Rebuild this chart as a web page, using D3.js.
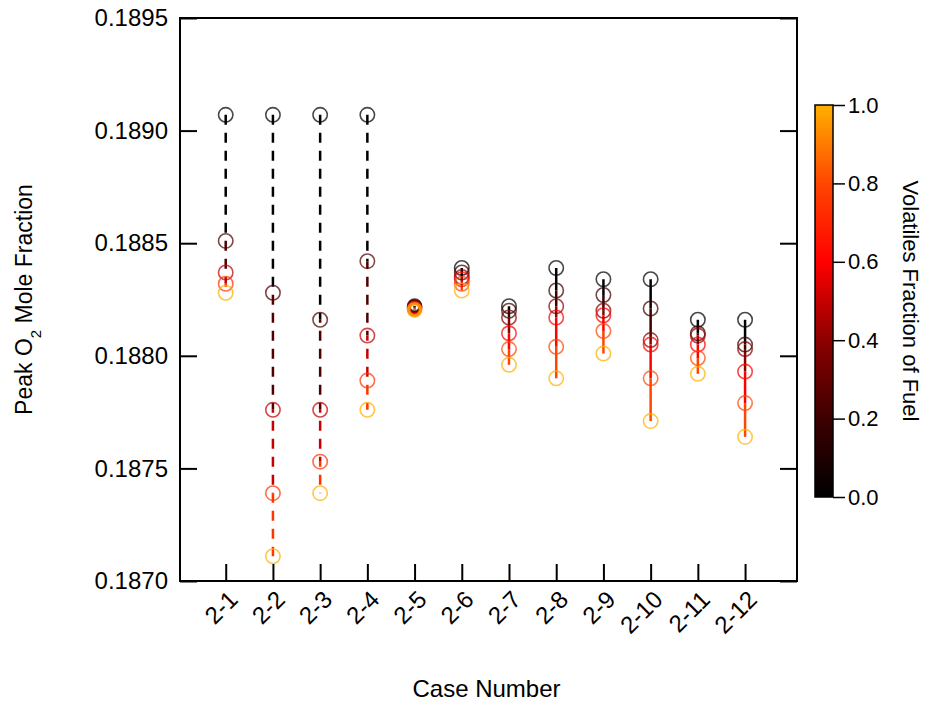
<!DOCTYPE html>
<html lang="en">
<head>
    <meta charset="UTF-8" />
    <title>Peak O2 Mole Fraction by Case</title>
    <script src="https://d3js.org/d3.v7.min.js"></script>
    <style>
        body { margin: 0; background: #fff; }
        svg text { font-family: "Liberation Sans", Arial, Helvetica, sans-serif; fill: #000; }
    </style>
</head>
<body>
    <div id="chart"></div>
    <script>
// Cases along the x axis
var cases = ["2-1", "2-2", "2-3", "2-4", "2-5", "2-6", "2-7", "2-8", "2-9", "2-10", "2-11", "2-12"];

// Volatiles fraction of each run (five runs for the dashed cases, six for the rest)
var fracFive = [0, 0.25, 0.5, 0.75, 1.0];
var fracSix = [0, 0.2, 0.4, 0.6, 0.8, 1.0];

// Peak O2 mole fraction per case, ordered by volatiles fraction
var peak2_1 = [0.18907, 0.18851, 0.18837, 0.18832, 0.18828];
var peak2_2 = [0.18907, 0.18828, 0.18776, 0.18739, 0.18711];
var peak2_3 = [0.18907, 0.18816, 0.18776, 0.18753, 0.18739];
var peak2_4 = [0.18907, 0.18842, 0.18809, 0.18789, 0.18776];
var peak2_5 = [0.188221, 0.188217, 0.188214, 0.18821, 0.188207, 0.188203];
var peak2_6 = [0.18839, 0.18837, 0.18835, 0.18834, 0.18832, 0.18829];
var peak2_7 = [0.18822, 0.18820, 0.18817, 0.18810, 0.18803, 0.18796];
var peak2_8 = [0.18839, 0.18829, 0.18822, 0.18817, 0.18804, 0.18790];
var peak2_9 = [0.18834, 0.18827, 0.18820, 0.18818, 0.18811, 0.18801];
var peak2_10 = [0.18834, 0.18821, 0.18807, 0.18805, 0.18790, 0.18771];
var peak2_11 = [0.18816, 0.18810, 0.18809, 0.18805, 0.18799, 0.18792];
var peak2_12 = [0.18816, 0.18805, 0.18803, 0.18793, 0.18779, 0.18764];

var peaks = [peak2_1, peak2_2, peak2_3, peak2_4, peak2_5, peak2_6,
             peak2_7, peak2_8, peak2_9, peak2_10, peak2_11, peak2_12];
var dashedCases = ["2-1", "2-2", "2-3", "2-4"];
var tightCases = ["2-5"];

// Axis ticks
var yTicks = [0.1870, 0.1875, 0.1880, 0.1885, 0.1890, 0.1895];
var cbarTicks = [0, 0.2, 0.4, 0.6, 0.8, 1.0];

// Colour map (black -> red -> orange)
var cmapStops = [0, 0.2, 0.4, 0.6, 0.8, 1.0];
var cmapColors = ["#000000", "#3c0000", "#8c0000", "#ff0000", "#ff4600", "#ffb000"];

var width = 928, height = 704;
var plot = { left: 180, right: 797, top: 18, bottom: 581 };

var svg = d3.select("#chart").append("svg")
    .attr("width", width)
    .attr("height", height);

var x = d3.scaleLinear().domain([0, 13.1]).range([178.5, plot.right]);
var y = d3.scaleLinear().domain([0.1870, 0.1895]).range([plot.bottom, plot.top]);
var color = d3.scaleLinear().domain(cmapStops).range(cmapColors).clamp(true);

// Build one record per point
var series = cases.map(function(c, i) {
    var vals = peaks[i];
    var fr = vals.length === 5 ? fracFive : fracSix;
    return {
        name: c,
        pos: i + 1,
        dashed: dashedCases.indexOf(c) >= 0,
        tight: tightCases.indexOf(c) >= 0,
        points: vals.map(function(v, j) { return { v: v, f: fr[j] }; })
    };
});

// Lines: each segment coloured by its upper point, dash pattern continued along the trace
var lines = svg.append("g");
series.forEach(function(s) {
    var cx = x(s.pos), run = 0;
    for (var j = 0; j < s.points.length - 1; j++) {
        var y1 = y(s.points[j].v), y2 = y(s.points[j + 1].v);
        var seg = lines.append("line")
            .attr("x1", cx).attr("x2", cx)
            .attr("y1", y1).attr("y2", y2)
            .attr("stroke", color(s.points[j].f))
            .attr("stroke-width", 2.5);
        if (s.dashed) {
            seg.attr("stroke-dasharray", "10,8").attr("stroke-dashoffset", run);
        }
        run += Math.abs(y2 - y1);
    }
});

// Open circle markers
var marks = svg.append("g");
series.forEach(function(s) {
    marks.selectAll(null)
        .data(s.points)
        .enter()
        .append("circle")
        .attr("cx", x(s.pos))
        .attr("cy", function(d) { return y(d.v); })
        .attr("r", s.tight ? 6 : 7.2)
        .attr("fill", "none")
        .attr("stroke", function(d) { return color(d.f); })
        .attr("stroke-width", s.tight ? 3.5 : 1.6)
        .attr("stroke-opacity", 0.72);
});

// Y axis (ticks point inward)
var yAxis = svg.append("g")
    .attr("transform", "translate(" + plot.left + ",0)")
    .call(d3.axisLeft(y).tickValues(yTicks).tickFormat(d3.format(".4f"))
        .tickSizeInner(-17).tickSizeOuter(0).tickPadding(12));
yAxis.select(".domain").remove();
yAxis.selectAll("line").attr("stroke-width", 2);
yAxis.selectAll("text").style("font-size", "24px");

// Mirrored ticks on the right edge
var yRight = svg.append("g")
    .attr("transform", "translate(" + plot.right + ",0)")
    .call(d3.axisRight(y).tickValues(yTicks).tickFormat("")
        .tickSizeInner(-17).tickSizeOuter(0));
yRight.select(".domain").remove();
yRight.selectAll("line").attr("stroke-width", 2);

// X axis with rotated case labels
var xAxis = svg.append("g")
    .attr("transform", "translate(0," + plot.bottom + ")")
    .call(d3.axisBottom(x).tickValues(d3.range(1, cases.length + 1))
        .tickFormat(function(d) { return cases[d - 1]; })
        .tickSizeInner(-17).tickSizeOuter(0));
xAxis.select(".domain").remove();
xAxis.selectAll("line").attr("stroke-width", 2);
xAxis.selectAll("text")
    .style("font-size", "24px")
    .attr("y", null).attr("dy", null)
    .attr("text-anchor", "end")
    .attr("transform", "translate(13,20) rotate(-45)");

// Plot frame
svg.append("rect")
    .attr("x", plot.left).attr("y", plot.top)
    .attr("width", plot.right - plot.left)
    .attr("height", plot.bottom - plot.top)
    .attr("fill", "none")
    .attr("stroke", "#000")
    .attr("stroke-width", 2);

// Axis titles
var yTitle = svg.append("text")
    .attr("transform", "translate(32," + ((plot.top + plot.bottom) / 2) + ") rotate(-90)")
    .attr("text-anchor", "middle")
    .style("font-size", "23px");
yTitle.append("tspan").text("Peak O");
yTitle.append("tspan").attr("baseline-shift", "sub").style("font-size", "15px").text("2");
yTitle.append("tspan").text(" Mole Fraction");

svg.append("text")
    .attr("x", (plot.left + plot.right) / 2 - 2)
    .attr("y", 697)
    .attr("text-anchor", "middle")
    .style("font-size", "24px")
    .text("Case Number");

// Colour bar
var cbar = { x: 815, w: 18, top: 105, bottom: 497 };
var cy = d3.scaleLinear().domain([0, 1]).range([cbar.bottom, cbar.top]);

var grad = svg.append("defs").append("linearGradient")
    .attr("id", "cmap")
    .attr("x1", 0).attr("y1", 1).attr("x2", 0).attr("y2", 0);
grad.selectAll("stop")
    .data(cmapStops)
    .enter()
    .append("stop")
    .attr("offset", function(d) { return d; })
    .attr("stop-color", function(d) { return color(d); });

svg.append("rect")
    .attr("x", cbar.x).attr("y", cbar.top)
    .attr("width", cbar.w).attr("height", cbar.bottom - cbar.top)
    .attr("fill", "url(#cmap)")
    .attr("stroke", "#000")
    .attr("stroke-width", 1.5);

var cAxis = svg.append("g")
    .attr("transform", "translate(" + (cbar.x + cbar.w) + ",0)")
    .call(d3.axisRight(cy).tickValues(cbarTicks).tickFormat(d3.format(".1f"))
        .tickSizeInner(12).tickSizeOuter(0).tickPadding(3));
cAxis.select(".domain").remove();
cAxis.selectAll("line").attr("stroke-width", 1.5);
cAxis.selectAll("text").style("font-size", "22px");

svg.append("text")
    .attr("transform", "translate(903," + ((cbar.top + cbar.bottom) / 2) + ") rotate(90)")
    .attr("text-anchor", "middle")
    .style("font-size", "22px")
    .text("Volatiles Fraction of Fuel");
    </script>
</body>
</html>
